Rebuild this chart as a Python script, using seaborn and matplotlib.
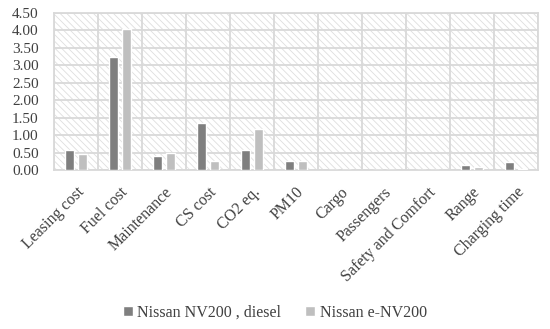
import matplotlib
matplotlib.use("Agg")
import matplotlib.pyplot as plt
import seaborn as sns
import pandas as pd
import numpy as np
from matplotlib.patches import Rectangle
from matplotlib.ticker import FixedLocator, FormatStrFormatter

categories = ["Leasing cost", "Fuel cost", "Maintenance", "CS cost", "CO2 eq.", "PM10",
              "Cargo", "Passengers", "Safety and Comfort", "Range", "Charging time"]
diesel = [0.59, 3.24, 0.40, 1.35, 0.59, 0.28, 0.0, 0.02, 0.0, 0.16, 0.23]
electric = [0.48, 4.04, 0.49, 0.27, 1.18, 0.28, 0.0, 0.01, 0.0, 0.09, 0.05]
series = ["Nissan NV200 , diesel", "Nissan e-NV200"]

df = pd.DataFrame({
    "category": categories * 2,
    "value": diesel + electric,
    "series": [series[0]] * len(categories) + [series[1]] * len(categories),
})

sns.set_theme(style="white")
plt.rcParams["font.family"] = ["Liberation Serif", "DejaVu Serif"]
plt.rcParams["hatch.linewidth"] = 0.6
plt.rcParams["hatch.color"] = "#d9d9d9"

fig = plt.figure(figsize=(5.5, 3.29), dpi=100)
ax = fig.add_axes([54/550, 1 - 170.5/329, (538-54)/550, (170.5-12.7)/329])

sns.barplot(data=df, x="category", y="value", hue="series", order=categories,
            hue_order=series, palette=["#7f7f7f", "#bfbfbf"], width=0.59, gap=0.32,
            ax=ax, zorder=3, saturation=1, legend=True)

ax.add_patch(Rectangle((0, 0), 1, 1, transform=ax.transAxes, facecolor="white",
                       edgecolor="#dedede", hatch="\\\\\\\\\\", linewidth=0, zorder=0))

ax.set_ylim(0, 4.5)
ax.set_xlim(-0.5, len(categories) - 0.5)
ax.set_yticks(np.arange(0, 4.51, 0.5))
ax.yaxis.set_major_formatter(FormatStrFormatter("%.2f"))
ax.xaxis.set_minor_locator(FixedLocator(np.arange(-0.5, len(categories), 1.0)))
ax.grid(True, axis="y", which="major", color="#d9d9d9", linewidth=1.3, zorder=1)
ax.grid(True, axis="x", which="minor", color="#d9d9d9", linewidth=1.3, zorder=1)
ax.grid(False, axis="x", which="major")
ax.set_axisbelow(True)
for s in ax.spines.values():
    s.set_color("#d9d9d9")
    s.set_linewidth(1.3)
ax.tick_params(axis="both", which="both", length=0, colors="#404040")
ax.tick_params(axis="y", pad=11, labelsize=11)
ax.tick_params(axis="x", pad=10, labelsize=11.5)
for lbl in ax.get_xticklabels():
    lbl.set_rotation(45)
    lbl.set_ha("right")
    lbl.set_rotation_mode("anchor")
ax.set_xlabel("")
ax.set_ylabel("")

handles, labels = ax.get_legend_handles_labels()
ax.legend_.remove()
leg = fig.legend(handles, labels, loc="center", bbox_to_anchor=(0.5, 1 - 313/329), ncol=2,
                 frameon=False, fontsize=11.5, handlelength=0.6, handleheight=0.6,
                 handletextpad=0.3, columnspacing=1.5)
for t in leg.get_texts():
    t.set_color("#404040")

fig.savefig("out.png", dpi=100)
